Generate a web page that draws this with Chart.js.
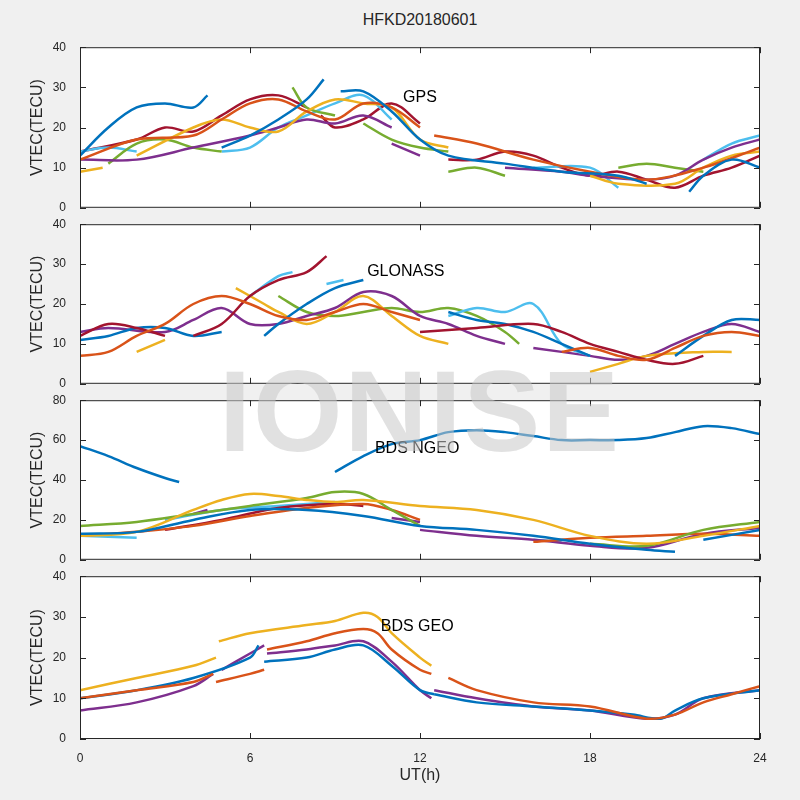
<!DOCTYPE html>
<html><head><meta charset="utf-8">
<script src="https://cdn.jsdelivr.net/npm/chart.js@4/dist/chart.umd.min.js"></script>
<style>
body{margin:0;background:#f0f0f0;width:800px;height:800px;overflow:hidden;font-family:"Liberation Sans",Arial,sans-serif}
.p{position:absolute;left:0;width:800px}
#title{position:absolute;top:11px;left:0;width:840px;text-align:center;font-size:16px;color:#262626}
#wm{position:absolute;top:345px;left:0;width:840px;text-align:center;font-size:115px;font-weight:bold;color:rgba(200,200,200,0.55);pointer-events:none;letter-spacing:2px}
</style></head><body>
<div id="title">HFKD20180601</div>
<div class="p" style="top:34px;height:187px"><canvas id="c1"></canvas></div>
<div class="p" style="top:211px;height:186px"><canvas id="c2"></canvas></div>
<div class="p" style="top:387px;height:186px"><canvas id="c3"></canvas></div>
<div class="p" style="top:563px;height:222px"><canvas id="c4"></canvas></div>
<div id="wm">IONISE</div>
<script>
const COLORS={blue:'#0072BD',orange:'#D95319',yellow:'#EDB120',purple:'#7E2F8E',green:'#77AC30',lblue:'#4DBEEE',red:'#A2142F'};
const xTicks=[0,6,12,18,24];
const panelLabels=['GPS','GLONASS','BDS NGEO','BDS GEO'];
const yMax=[40,40,80,40];
// segments: [color, [[x,y],...]]
const gps=[
['blue',[[0,13],[1,20],[2,25],[3,26],[4,25],[4.5,28]]],
['blue',[[5,15],[6,18],[7,22],[8,27],[8.6,32]]],
['blue',[[9.2,29],[10,29],[11,24],[12,17],[13,13],[15,11],[17,9],[19,8],[20,6]]],
['blue',[[21.5,4],[22,8],[23,12],[24,10]]],
['orange',[[0,12],[2,17],[4,18],[5,22],[6,26],[7,27],[8,24],[9,22],[10,26],[11,25],[12,20]]],
['orange',[[12.5,18],[14,16],[16,12],[18,9],[20,7],[22,10],[24,15]]],
['yellow',[[0,9],[0.8,10]]],
['yellow',[[2,13],[4,20],[5,22],[6,20],[7,19],[8,24],[9,27],[10,26],[11,25],[12,17],[13,15]]],
['yellow',[[18,8],[19,6],[21,6],[22,10],[23,13],[24,14]]],
['purple',[[0,12],[2,12],[4,15],[6,18],[7,20],[8,22],[9,21],[10,23],[11,20]]],
['purple',[[11,16],[12,13]]],
['purple',[[15,10],[17,9],[18,8],[20,7],[21,8],[22,12],[23,15],[24,17]]],
['green',[[1,11],[2,16],[3,17],[4,15],[5,14]]],
['green',[[7.5,30],[8,25],[9,23]]],
['green',[[10,21],[11,17],[12,15],[13,14]]],
['green',[[13,9],[14,10],[15,8]]],
['green',[[19,10],[20,11],[21,10],[22,9]]],
['lblue',[[0,14],[1,15],[2,14]]],
['lblue',[[5,14],[6,15],[7,20],[8,23],[9,26],[10,28],[11,22]]],
['lblue',[[16,10],[18,10],[19,5]]],
['lblue',[[22,12],[23,16],[24,18]]],
['red',[[0,14],[2,17],[3,20],[4,19],[5,23],[6,27],[7,28],[8,25]]],
['red',[[8.5,23],[9,20],[10,22],[11,26],[12,21]]],
['red',[[13,12],[14,12],[15,14],[16,13],[17,10],[18,8],[19,9],[20,7],[21,5],[22,8],[23,10],[24,13]]]
];
const glonass=[
['orange',[[0,7],[1,8],[2,12],[3,15],[4,20],[5,22],[6,20],[7,17],[8,16],[9,18],[10,20],[11,18],[12,16]]],
['orange',[[17,8],[18,9],[19,7],[20,6],[21,9],[22,12],[23,13],[24,12]]],
['red',[[0,12],[1,15],[2,14],[3,12]]],
['red',[[4,12],[5,15],[6,22],[7,26],[8,28],[8.7,32]]],
['red',[[12,13],[14,14],[16,15],[17,13],[18,10],[19,8],[20,6],[21,5],[22,7]]],
['blue',[[0,11],[1,12],[2,14],[3,14],[4,12],[5,13]]],
['blue',[[6.5,12],[7,15],[8,20],[9,24],[10,26]]],
['blue',[[13,18],[14,16],[15,15],[16,13],[17,10],[18,7]]],
['blue',[[21,7],[22,12],[23,16],[24,16]]],
['lblue',[[6,22],[7,27],[7.5,28]]],
['lblue',[[8.7,25],[9.3,26]]],
['lblue',[[13,17],[14,19],[15,18],[16,20],[17,10],[18,7]]],
['yellow',[[2,8],[3,11]]],
['yellow',[[5.5,24],[6.5,20],[7,18],[8,15],[9,18],[10,22],[11,17],[12,12],[13,10]]],
['yellow',[[18,3],[19,5],[20,7],[22,8],[23,8]]],
['purple',[[0,13],[1,14],[3,13],[4,16],[5,19],[6,15],[7,15],[8,17],[9,19],[10,23],[11,22],[12,17],[13,15],[14,12],[15,10]]],
['purple',[[16,9],[18,7],[19,6],[20,7],[21,10],[22,13],[23,15],[24,13]]],
['green',[[7,22],[8,18],[9,17],[10,18],[11,19],[12,18],[13,19],[14,17],[15,13],[15.5,10]]]
];
const ngeo=[
['blue',[[0,57],[1,52],[2,46],[3,41],[3.5,39]]],
['blue',[[9,44],[10,52],[11,58],[12,60],[13,64],[14,65],[15,64],[16,62],[17,60],[18,60],[19,60],[20,61],[21,64],[22,67],[23,66],[24,63]]],
['blue',[[0,13],[2,14],[4,20],[6,25],[8,25],[10,22],[12,17],[14,15],[16,12],[18,8],[20,5],[21,4]]],
['blue',[[22,10],[24,15]]],
['yellow',[[0,12],[2,14],[4,25],[5,30],[6,33],[7,32],[8,30],[9,29],[10,30],[12,27],[14,25],[16,20],[18,12],[20,8],[22,12],[24,17]]],
['green',[[0,17],[2,19],[4,23],[6,27],[8,31],[9,34],[10,33],[11,25],[12,17]]],
['green',[[18,8],[20,7],[22,15],[24,19]]],
['orange',[[0,12],[2,14],[4,17],[6,22],[8,26],[10,28],[11,25],[12,20]]],
['orange',[[16,9],[18,11],[20,12],[22,13],[24,12]]],
['purple',[[4,23],[4.5,25]]],
['purple',[[11,21],[12,19]]],
['purple',[[12,15],[14,12],[16,10],[18,7],[20,6],[22,13],[24,16]]],
['red',[[3,15],[5,20],[7,26],[9,28],[10,27]]],
['lblue',[[0,12],[2,11]]],
['lblue',[[3,20],[5,25],[7,27],[9,29]]],
['lblue',[[16,10],[17,9]]]
];
const geo=[
['yellow',[[0,12],[2,15],[4,18],[4.8,20]]],
['yellow',[[4.9,24],[6,26],[8,28],[9,29],[10,31],[10.5,30],[11,26],[12,20],[12.4,18]]],
['orange',[[0,10],[2,12],[4,14],[4.7,16]]],
['orange',[[4.8,14],[6,16],[6.5,17]]],
['orange',[[6.6,22],[8,24],[9,26],[10,27],[10.5,26],[11,22],[12,17],[12.4,16]]],
['orange',[[13,15],[14,12],[16,9],[18,8],[20,5],[21,6],[22,9],[23,11],[24,13]]],
['blue',[[0,10],[2,12],[4,15],[6,20],[6.3,23]]],
['blue',[[6.5,19],[8,20],[9,22],[10,23],[11,18],[12,12],[12.5,11]]],
['blue',[[12.5,11],[14,9],[16,8],[18,7],[19.5,6],[20.5,5],[21,7],[22,10],[24,12]]],
['purple',[[0,7],[2,9],[4,13],[4.7,16]]],
['purple',[[5,17],[6,21],[6.5,23]]],
['purple',[[6.6,21],[8,22],[9,23],[10,24],[11,19],[12,12],[12.4,10]]],
['purple',[[12.5,12],[14,10],[16,8],[18,7],[20,5],[21,6],[22,10],[24,12]]]
];
const labelPos=[[12,27.5],[11.5,28],[11.9,55.5],[11.9,27.7]];
const panels=[gps,glonass,ngeo,geo];

const boxPlugin={id:'box',afterDatasetsDraw(chart,args,opts){
  const {ctx,chartArea:a,scales:{x,y}}=chart;
  ctx.save();ctx.strokeStyle='#262626';ctx.lineWidth=1;
  ctx.strokeRect(a.left+0.5,a.top+0.5,a.right-a.left-1,a.bottom-a.top-1);
  ctx.beginPath();
  xTicks.forEach(v=>{const px=Math.round(x.getPixelForValue(v))+0.5;ctx.moveTo(px,a.bottom);ctx.lineTo(px,a.bottom-6);ctx.moveTo(px,a.top);ctx.lineTo(px,a.top+6);});
  y.ticks.forEach(t=>{const py=Math.round(y.getPixelForValue(t.value))+0.5;ctx.moveTo(a.left,py);ctx.lineTo(a.left+6,py);ctx.moveTo(a.right,py);ctx.lineTo(a.right-6,py);});
  ctx.stroke();
  ctx.fillStyle='#000';ctx.font='16px "Liberation Sans", Arial';ctx.textAlign='center';ctx.textBaseline='middle';
  ctx.fillText(opts.label,x.getPixelForValue(opts.pos[0]),y.getPixelForValue(opts.pos[1]));
  ctx.restore();
}};
panels.forEach((segs,i)=>{
  const last=i===3;
  new Chart(document.getElementById('c'+(i+1)),{
    type:'line',
    data:{datasets:segs.map(s=>({data:s[1].map(p=>({x:p[0],y:p[1]})),borderColor:COLORS[s[0]],borderWidth:2.5,pointRadius:0,tension:0.35,fill:false}))},
    options:{responsive:true,maintainAspectRatio:false,animation:false,
      layout:{padding:{left:28,right:40,top:10,bottom:last?0:10}},
      plugins:{legend:{display:false},tooltip:{enabled:false},box:{label:panelLabels[i],pos:labelPos[i]}},
      scales:{
        x:{type:'linear',min:0,max:24,grid:{display:false},border:{display:false},
          afterBuildTicks:s=>{s.ticks=xTicks.map(v=>({value:v}));},
          ticks:{display:last,color:'#262626',font:{size:12,family:'Liberation Sans'},padding:4},
          title:{display:last,text:'UT(h)',color:'#262626',font:{size:16,family:'Liberation Sans'},padding:{top:2,bottom:0}},
          afterFit:s=>{s.height=last?46:0;}},
        y:{min:0,max:yMax[i],grid:{display:false},border:{display:false},
          ticks:{stepSize:yMax[i]/4,color:'#262626',font:{size:12,family:'Liberation Sans'},padding:6},
          title:{display:true,text:'VTEC(TECU)',color:'#262626',font:{size:16,family:'Liberation Sans'},padding:{top:0,bottom:4}},
          afterFit:s=>{s.width=52;}}
      }
    },
    plugins:[boxPlugin,{id:'bg',beforeDraw(c){const a=c.chartArea;c.ctx.save();c.ctx.fillStyle='#fff';c.ctx.fillRect(a.left,a.top,a.right-a.left,a.bottom-a.top);c.ctx.restore();}}]
  });
});
</script>
</body></html>
